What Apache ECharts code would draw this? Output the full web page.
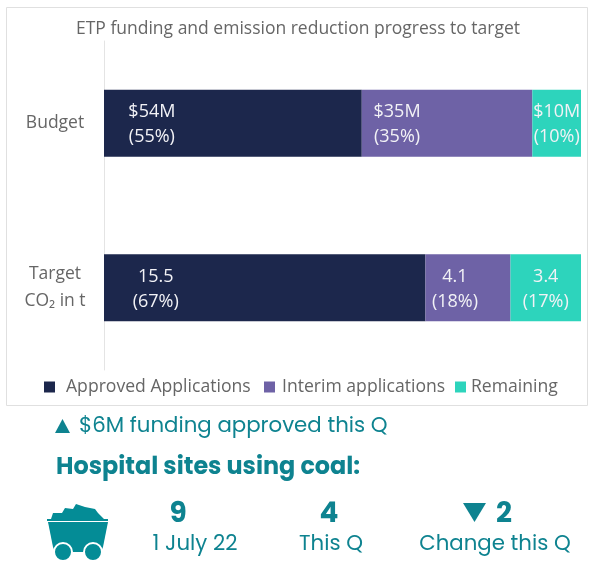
<!DOCTYPE html>
<html>
<head>
<meta charset="utf-8">
<style>html,body{margin:0;padding:0;background:#fff}#c{width:590px;height:571px}</style>
<script src="https://cdn.jsdelivr.net/npm/echarts@6/dist/echarts.min.js"></script>
</head>
<body>
<div id="c"></div>
<script>
const categories = ['Budget', 'Target\nCO₂ in t'];
const seriesNames = ['Approved Applications', 'Interim applications', 'Remaining'];
const approved = [53.5, 15.5];
const interim = [35.4, 4.1];
const remaining = [10.1, 3.4];
const approvedLabels = ['$54M\n(55%)', '15.5\n(67%)'];
const interimLabels = ['$35M\n(35%)', '4.1\n(18%)'];
const remainingLabels = ['$10M\n(10%)', '3.4\n(17%)'];
const chartTitle = 'ETP funding and emission reduction progress to target';
const fundingNote = '$6M funding approved this Q';
const coalTitle = 'Hospital sites using coal:';
const coalValues = ['9', '4', '2'];
const coalLabels = ['1 July 22', 'This Q', 'Change this Q'];

const colors = ['#1c274c', '#6e62a6', '#2dd4bc'];
const teal = '#0e8390';
const gray = '#666666';
const rowTotals = categories.map((_, i) => approved[i] + interim[i] + remaining[i]);
const share = arr => arr.map((v, i) => v / rowTotals[i] * 100);
const labelShift = [[[-81, 1], [-109, 2]], [[-50, 1], [-13, 2]], [[0, 1], [0, 2]]];

function makeSeries(k, values, labels) {
  return {
    name: seriesNames[k], type: 'bar', stack: 'total', barWidth: 67,
    itemStyle: { color: colors[k] },
    data: share(values).map((v, i) => ({
      value: v,
      label: { show: true, position: 'inside', offset: labelShift[k][i], formatter: labels[i],
        color: '#f2f2f6', fontFamily: 'Open Sans', fontSize: 18, lineHeight: 25, align: 'center' }
    }))
  };
}

const legendSlots = [[39, 6], [259, 2], [450, 0]];
const legends = seriesNames.map((name, k) => ({
  left: legendSlots[k][0], top: 373, itemWidth: 11, itemHeight: 11, icon: 'rect',
  textStyle: { color: gray, fontFamily: 'Open Sans', fontSize: 17.6, padding: [0, 0, 0, legendSlots[k][1]] },
  data: [name]
}));

const fontB = 'Poppins, Lato, "Open Sans", sans-serif';
const txt = (x, y, text, size, weight, align) => ({
  type: 'text', x, y,
  style: { text, fill: teal, fontFamily: fontB, fontSize: size, fontWeight: weight || 400,
    textAlign: align || 'left', textVerticalAlign: 'middle' }
});

const cartColor = '#048c96';
const wheelStyle = { fill: cartColor, stroke: '#fff', lineWidth: 2 };
const cart = [
  { type: 'polygon', shape: { points: [[51,519],[53,513],[62,513],[65,508],[73,509],[76,504],[85,507],[95,509],[98,513],[104,519]] }, style: { fill: cartColor } },
  { type: 'rect', shape: { x: 47, y: 519, width: 61, height: 2 }, style: { fill: cartColor } },
  { type: 'polygon', shape: { points: [[48,522],[108,522],[103,547],[101,552],[55,552],[53,547]] }, style: { fill: cartColor } },
  { type: 'circle', shape: { cx: 63, cy: 552, r: 9 }, style: wheelStyle },
  { type: 'circle', shape: { cx: 93, cy: 552, r: 9 }, style: wheelStyle }
];
const triangles = [
  { type: 'polygon', shape: { points: [[55,433],[70,433],[62.5,419]] }, style: { fill: teal } },
  { type: 'polygon', shape: { points: [[463,503],[486,503],[474.5,522]] }, style: { fill: teal } }
];

const chart = echarts.init(document.getElementById('c'), null, { renderer: 'canvas' });
chart.setOption({
  animation: false,
  backgroundColor: '#fff',
  title: { text: chartTitle, left: 293, textAlign: 'center', top: 15,
    textStyle: { color: gray, fontFamily: 'Open Sans', fontSize: 17.5, fontWeight: 400 } },
  legend: legends,
  grid: { left: 104, right: 9, top: 41, height: 329 },
  xAxis: { type: 'value', min: 0, max: 100, show: false },
  yAxis: {
    type: 'category', inverse: true, data: categories,
    axisLine: { show: true, lineStyle: { color: '#e4e4e4', width: 1 } },
    axisTick: { show: false },
    axisLabel: { color: gray, fontFamily: 'Open Sans', fontSize: 17.5, lineHeight: 27, margin: 49, align: 'center', padding: [5, 0, 0, 0] }
  },
  series: [
    makeSeries(0, approved, approvedLabels),
    makeSeries(1, interim, interimLabels),
    makeSeries(2, remaining, remainingLabels)
  ],
  graphic: [
    { type: 'rect', silent: true, z: -1, shape: { x: 6.5, y: 7.5, width: 581, height: 398 }, style: { fill: 'none', stroke: '#e0e0e0', lineWidth: 1 } },
    txt(79, 427, fundingNote, 21.3),
    txt(56, 468, coalTitle, 23.9, 700),
    txt(178, 515, coalValues[0], 28, 700, 'center'),
    txt(329, 515, coalValues[1], 28, 700, 'center'),
    txt(504, 515, coalValues[2], 28, 700, 'center'),
    txt(195, 545, coalLabels[0], 21.3, 400, 'center'),
    txt(331, 545, coalLabels[1], 21.3, 400, 'center'),
    txt(495, 545, coalLabels[2], 21.3, 400, 'center'),
    ...triangles,
    ...cart
  ]
});
</script>
</body>
</html>
